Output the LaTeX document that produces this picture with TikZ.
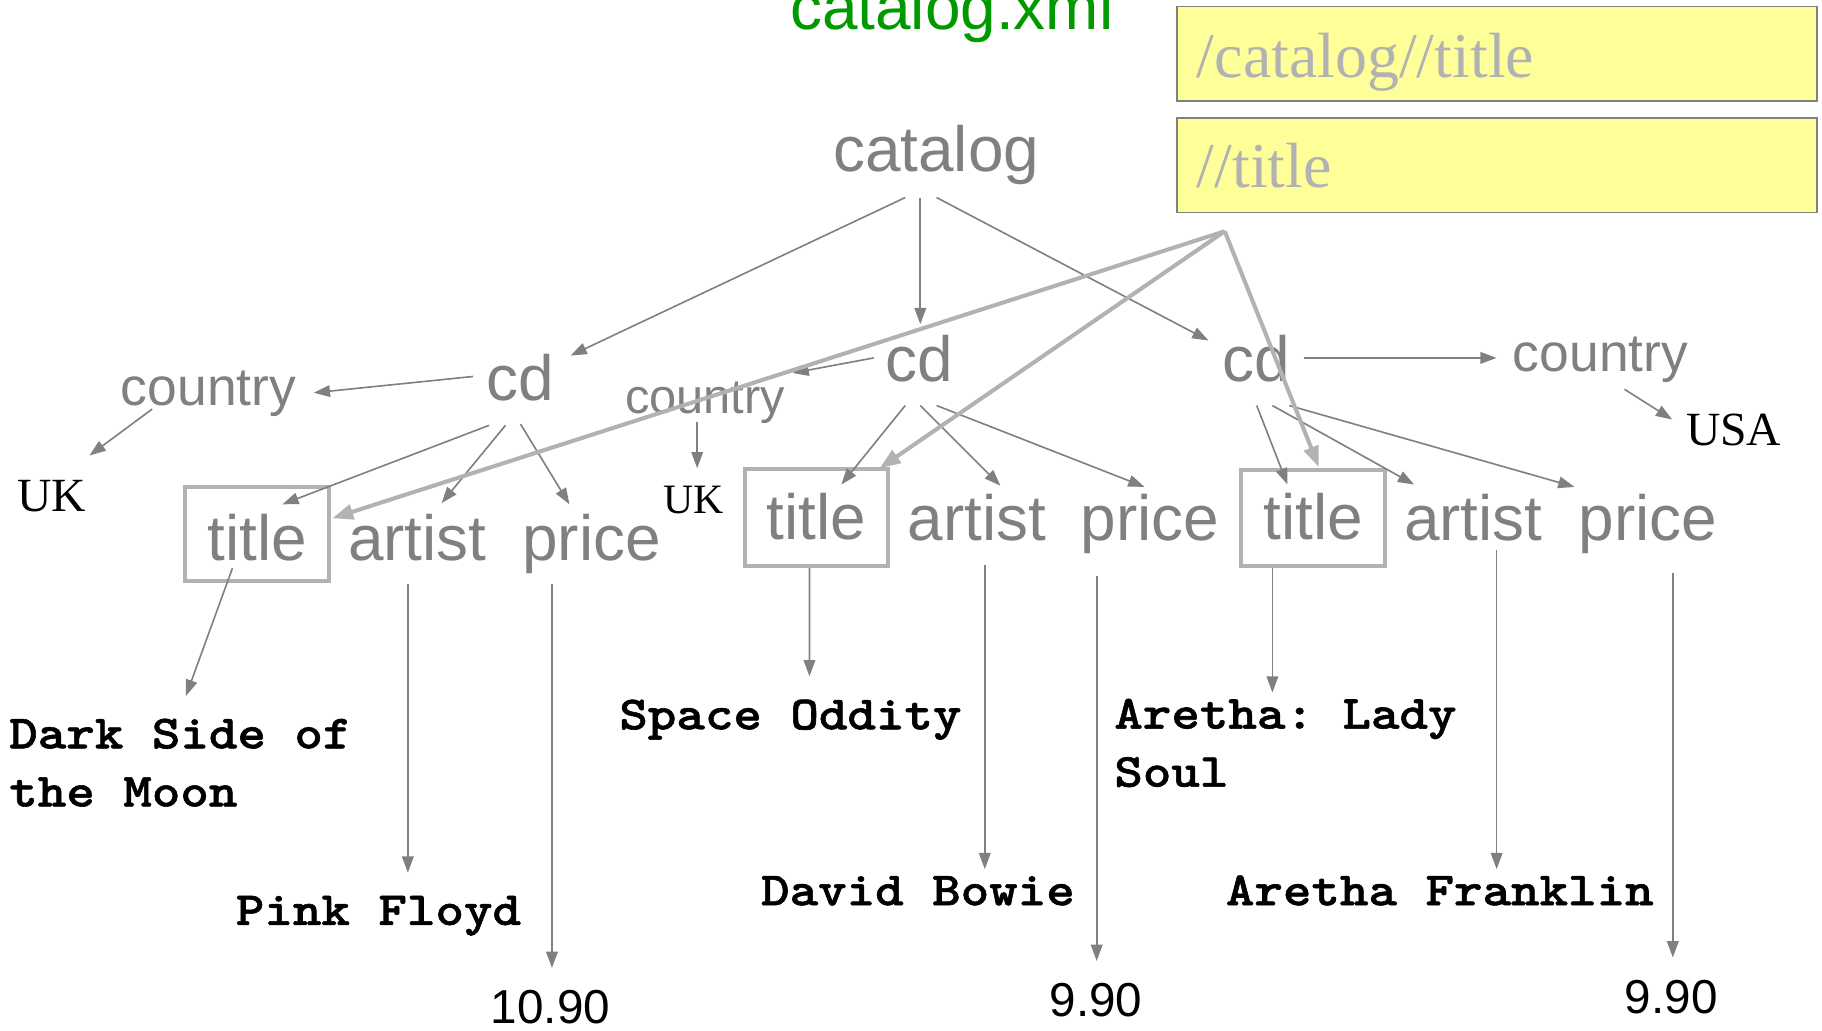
\documentclass[tikz,border=0pt]{standalone}
\usepackage{fontspec}
\setmainfont{Liberation Serif}
\setsansfont{Liberation Sans}
\setmonofont{Liberation Mono}
\newfontfamily\codefont{lmmonolt10-bold}[Extension=.otf, FakeStretch=1.14, FakeBold=1.2]
\usetikzlibrary{arrows.meta}
\definecolor{tgray}{RGB}{128,128,128}
\definecolor{lgray}{RGB}{178,178,178}
\definecolor{xmlgreen}{RGB}{0,153,0}
\definecolor{qyellow}{RGB}{255,255,153}

\begin{document}
\begin{tikzpicture}[x=1pt,y=-1pt,
  every node/.style={inner sep=0pt, outer sep=0pt},
  tag/.style={anchor=base west, text=tgray, font=\sffamily\fontsize{55}{60}\selectfont},
  ctry/.style={anchor=base west, text=tgray, font=\sffamily\fontsize{46}{50}\selectfont},
  place/.style={anchor=base west, text=black, font=\rmfamily\fontsize{41}{46}\selectfont},
  val/.style={anchor=base west, align=left, text=black, font=\codefont\fontsize{41}{50}\selectfont\frenchspacing},
  num/.style={anchor=base west, text=black, font=\sffamily\fontsize{41}{46}\selectfont},
  hit/.style={draw=lgray, line width=3.3pt, text=tgray, font=\sffamily\fontsize{55}{60}\selectfont,
    minimum width=123.5pt, text depth=0pt},
  query/.style={draw=tgray, line width=1.5pt, fill=qyellow, text=lgray, anchor=north west,
    font=\rmfamily\fontsize{55}{60}\selectfont, minimum height=81.1pt,
    inner xsep=17.25pt, text width=516.3pt, align=left, text depth=0pt},
  link/.style={draw=tgray, line width=1.4pt, -{Triangle[length=14pt,width=10pt]}},
  match/.style={draw=lgray, line width=3.5pt, -{Triangle[length=18pt,width=13pt]}},
]
\useasboundingbox (0,0) rectangle (1568,887);
\clip (0,0) rectangle (1568,887);

% file name and the two queries
\node[anchor=base west, text=xmlgreen, font=\sffamily\fontsize{55}{60}\selectfont] (file) at (680,25) {catalog.xml};
\node[query, text height=40.8pt] (q1) at (1012.75,5.65) {/catalog//title};
\node[query, text height=38.8pt] (q2) at (1012.75,101.75) {//title};
\coordinate (src) at (1054,199);

% element tree
\node[tag] (root) at (717,148) {catalog};
\node[tag] (cd1) at (419,345) {cd};
\node[tag] (cd2) at (762,328.5) {cd};
\node[tag] (cd3) at (1052,328) {cd};

\node[ctry] (c1) at (104,349) {country};
\node[ctry, font=\sffamily\fontsize{42}{48}\selectfont] (c2) at (538,356) {country};
\node[ctry] (c3) at (1302,320) {country};
\node[place] (uk1) at (15,440) {UK};
\node[place, font=\rmfamily\fontsize{36}{42}\selectfont] (uk2) at (571,442) {UK};
\node[place] (usa) at (1451,383) {USA};

\node[hit, text height=45pt, minimum height=81.5pt] (t1) at (221.3,459.5) {title};
\node[tag] (a1) at (299.5,482) {artist};
\node[tag] (p1) at (449.5,482) {price};
\node[hit, text height=38.6pt, minimum height=84pt] (t2) at (702.7,445.4) {title};
\node[tag] (a2) at (781,465) {artist};
\node[tag] (p2) at (930,465) {price};
\node[hit, text height=37.8pt, minimum height=83.1pt] (t3) at (1130,445.8) {title};
\node[tag] (a3) at (1208.3,465) {artist};
\node[tag] (p3) at (1358.6,465) {price};

% text values (two-line values sit on their last line)
\node[val] (v1) at (8,694) {Dark Side of\\the Moon};
\node[val] (v2) at (203,796) {Pink Floyd};
\node[num] (v3) at (422.5,880.6) {10.90};
\node[val] (v4) at (533,627.6) {Space Oddity};
\node[val] (v5) at (655,779) {David Bowie};
\node[num] (v6) at (903.3,875) {9.90};
\node[val] (v7) at (959,677) {Aretha: Lady\\Soul};
\node[val] (v8) at (1055,779) {Aretha Franklin};
\node[num] (v9) at (1398.3,872) {9.90};

% parent-child links
\draw[link] ([shift={(62,22)}]root.base west) -- ([shift={(72,-39)}]cd1.base west);
\draw[link] ([shift={(75,22)}]root.base west) -- ([shift={(30,-49.5)}]cd2.base west);
\draw[link] ([shift={(89,22)}]root.base west) -- ([shift={(-12,-35)}]cd3.base west);

\draw[link] ([shift={(-12,-21)}]cd1.base west) -- ([shift={(166,-11)}]c1.base west);
\draw[link] ([shift={(27,3)}]c1.base west) -- ([shift={(62,-48)}]uk1.base west);
\draw[link] ([shift={(2,21)}]cd1.base west) -- ([shift={(21.7,-25.5)}]t1.center);
\draw[link] ([shift={(16,21)}]cd1.base west) -- ([shift={(80.5,-49)}]a1.base west);
\draw[link] ([shift={(29,20)}]cd1.base west) -- ([shift={(40.5,-48)}]p1.base west);
\draw[link] ([shift={(-21.3,29.5)}]t1.center) -- ([shift={(152,-95)}]v1.base west);
\draw[link] ([shift={(51.5,21)}]a1.base west) -- ([shift={(148,-45)}]v2.base west);
\draw[link] ([shift={(25.5,21)}]p1.base west) -- ([shift={(52.5,-47.6)}]v3.base west);

\draw[link] ([shift={(-10,-20.5)}]cd2.base west) -- ([shift={(144,-35)}]c2.base west);
\draw[link] ([shift={(62,7)}]c2.base west) -- ([shift={(29,-39)}]uk2.base west);
\draw[link] ([shift={(17,20.5)}]cd2.base west) -- ([shift={(21.3,-28.4)}]t2.center);
\draw[link] ([shift={(30,20.5)}]cd2.base west) -- ([shift={(80,-47)}]a2.base west);
\draw[link] ([shift={(44,20.5)}]cd2.base west) -- ([shift={(55,-46)}]p2.base west);
\draw[link] ([shift={(-6.1,43.6)}]t2.center) -- ([shift={(163.6,-45.6)}]v4.base west);
\draw[link] ([shift={(66.5,21)}]a2.base west) -- ([shift={(192.5,-31)}]v5.base west);
\draw[link] ([shift={(13.8,31)}]p2.base west) -- ([shift={(40.5,-48)}]v6.base west);

\draw[link] ([shift={(70,-20)}]cd3.base west) -- ([shift={(-14,-12)}]c3.base west);
\draw[link] ([shift={(96,15)}]c3.base west) -- ([shift={(-12,-22)}]usa.base west);
\draw[link] ([shift={(29.5,21)}]cd3.base west) -- ([shift={(-22,-28.8)}]t3.center);
\draw[link] ([shift={(43,21)}]cd3.base west) -- ([shift={(8.7,-48)}]a3.base west);
\draw[link] ([shift={(57.5,21)}]cd3.base west) -- ([shift={(-3.6,-46)}]p3.base west);
\draw[link] ([shift={(-35,43.2)}]t3.center) -- ([shift={(136,-81)}]v7.base west);
\draw[link] ([shift={(79.7,8)}]a3.base west) -- ([shift={(233,-31)}]v8.base west);
\draw[link] ([shift={(81,28)}]p3.base west) -- ([shift={(41.3,-48)}]v9.base west);

% query matches
\draw[match] (src) -- ([shift={(64.7,-13.5)}]t1.center);
\draw[match] (src) -- ([shift={(54.3,-42.4)}]t2.center);
\draw[match] (src) -- ([shift={(5,-43.8)}]t3.center);
\end{tikzpicture}
\end{document}
